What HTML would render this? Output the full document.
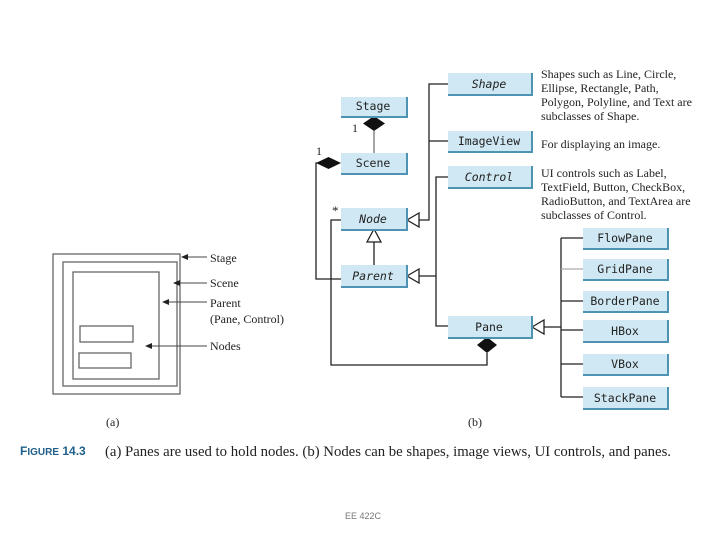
<!DOCTYPE html>
<html><head><style>
html,body{margin:0;padding:0;background:#fff;}
svg{display:block}
.m{font-family:"DejaVu Sans Mono","Liberation Mono",monospace;font-size:11.5px;fill:#222;text-anchor:middle}
.i{font-style:italic}
.s{font-family:"Liberation Serif",serif;font-size:12px;fill:#222}
</style></head><body>
<svg width="720" height="540" viewBox="0 0 720 540" xmlns="http://www.w3.org/2000/svg">
<!-- left diagram -->
<g fill="none" stroke="#666" stroke-width="1.3">
<rect x="53" y="254" width="127" height="140"/>
<rect x="63" y="262" width="114" height="124"/>
<rect x="73" y="272" width="86" height="107"/>
<rect x="80" y="326" width="53" height="16"/>
<rect x="79" y="353" width="52" height="15"/>
</g>
<g stroke="#444" stroke-width="1">
<line x1="183" y1="257" x2="207" y2="257"/>
<line x1="175" y1="283" x2="207" y2="283"/>
<line x1="164" y1="302" x2="207" y2="302"/>
<line x1="147" y1="346" x2="207" y2="346"/>
</g>
<g fill="#222">
<polygon points="181,257 188,254 188,260"/>
<polygon points="173,283 180,280 180,286"/>
<polygon points="162,302 169,299 169,305"/>
<polygon points="145,346 152,343 152,349"/>
</g>
<g class="s">
<text x="210" y="262">Stage</text>
<text x="210" y="287">Scene</text>
<text x="210" y="307">Parent</text>
<text x="210" y="323">(Pane, Control)</text>
<text x="210" y="350">Nodes</text>
<text x="106" y="426">(a)</text>
<text x="468" y="426">(b)</text>
</g>
<!-- connectors -->
<g fill="none" stroke="#222" stroke-width="1.3">
<polyline points="448,84 429,84 429,220 418,220"/>
<line x1="429" y1="141" x2="448" y2="141"/>
<polyline points="448,177 436,177 436,326 448,326"/>
<line x1="418" y1="276" x2="436" y2="276"/>
<line x1="374" y1="242" x2="374" y2="265"/>
<line x1="374" y1="131" x2="374" y2="154" stroke="#777"/>
<polyline points="324,163 316,163 316,279 341,279"/>
<polyline points="341,220 331,220 331,365 487,365 487,353"/>
<line x1="541" y1="327" x2="561" y2="327"/>
<line x1="561" y1="238" x2="561" y2="397"/>
<line x1="561" y1="238" x2="583" y2="238"/>
<line x1="561" y1="269" x2="583" y2="269" stroke="#aaa"/>
<line x1="561" y1="301" x2="583" y2="301"/>
<line x1="561" y1="330" x2="583" y2="330"/>
<line x1="561" y1="364" x2="583" y2="364"/>
<line x1="561" y1="397" x2="583" y2="397"/>
</g>
<g fill="#fff" stroke="#222" stroke-width="1.3">
<polygon points="407,220 419,213 419,227"/>
<polygon points="407,276 419,269 419,283"/>
<polygon points="532,327 544,320 544,334"/>
<polygon points="374,229 367,242 381,242"/>
</g>
<g fill="#111">
<polygon points="374,116 385,123.5 374,131 363,123.5"/>
<polygon points="341,163 328.5,169 316,163 328.5,157"/>
<polygon points="487,337 497,345 487,353 477,345"/>
</g>
<g class="s" font-size="12">
<text x="352" y="132">1</text>
<text x="316" y="155">1</text>
<text x="332" y="215" font-size="13">*</text>
</g>
<!-- boxes -->
<g fill="#cfe8f3" stroke="none">
<rect x="448" y="73" width="84" height="22"/>
<rect x="341" y="97" width="66" height="20"/>
<rect x="341" y="153" width="66" height="21"/>
<rect x="448" y="131" width="84" height="21"/>
<rect x="448" y="166" width="84" height="22"/>
<rect x="341" y="208" width="66" height="22"/>
<rect x="341" y="265" width="66" height="22"/>
<rect x="448" y="316" width="84" height="22"/>
<rect x="583" y="228" width="85" height="21"/>
<rect x="583" y="259" width="85" height="21"/>
<rect x="583" y="291" width="85" height="21"/>
<rect x="583" y="320" width="85" height="22"/>
<rect x="583" y="354" width="85" height="21"/>
<rect x="583" y="387" width="85" height="22"/>
</g>
<g fill="none" stroke="#4f93b3" stroke-width="2">
<polyline points="448,95 532,95 532,73"/>
<polyline points="341,117 407,117 407,97"/>
<polyline points="341,174 407,174 407,153"/>
<polyline points="448,152 532,152 532,131"/>
<polyline points="448,188 532,188 532,166"/>
<polyline points="341,230 407,230 407,208"/>
<polyline points="341,287 407,287 407,265"/>
<polyline points="448,338 532,338 532,316"/>
<polyline points="583,249 668,249 668,228"/>
<polyline points="583,280 668,280 668,259"/>
<polyline points="583,312 668,312 668,291"/>
<polyline points="583,342 668,342 668,320"/>
<polyline points="583,375 668,375 668,354"/>
<polyline points="583,409 668,409 668,387"/>
</g>
<g class="m">
<text x="489" y="88" class="m i">Shape</text>
<text x="373" y="110">Stage</text>
<text x="373" y="167">Scene</text>
<text x="489" y="145">ImageView</text>
<text x="489" y="181" class="m i">Control</text>
<text x="373" y="223" class="m i">Node</text>
<text x="373" y="280" class="m i">Parent</text>
<text x="489" y="331">Pane</text>
<text x="625" y="242">FlowPane</text>
<text x="625" y="273">GridPane</text>
<text x="625" y="305">BorderPane</text>
<text x="625" y="335">HBox</text>
<text x="625" y="368">VBox</text>
<text x="625" y="402">StackPane</text>
</g>
<g class="s" font-size="11.7">
<text x="541" y="78">Shapes such as Line, Circle,</text>
<text x="541" y="92">Ellipse, Rectangle, Path,</text>
<text x="541" y="106">Polygon, Polyline, and Text are</text>
<text x="541" y="120">subclasses of Shape.</text>
<text x="541" y="148">For displaying an image.</text>
<text x="541" y="177">UI controls such as Label,</text>
<text x="541" y="191">TextField, Button, CheckBox,</text>
<text x="541" y="205">RadioButton, and TextArea are</text>
<text x="541" y="219">subclasses of Control.</text>
</g>
<text x="20" y="455" font-family="Liberation Sans,sans-serif" font-weight="bold" font-size="12" fill="#1f5f8a">F<tspan font-size="10">IGURE</tspan> 14.3</text>
<text x="105" y="456" font-family="Liberation Serif,serif" font-size="15" fill="#222" textLength="566" lengthAdjust="spacingAndGlyphs">(a) Panes are used to hold nodes. (b) Nodes can be shapes, image views, UI controls, and panes.</text>
<text x="345" y="519" font-family="Liberation Sans,sans-serif" font-size="9" fill="#777">EE 422C</text>
</svg>
</body></html>
